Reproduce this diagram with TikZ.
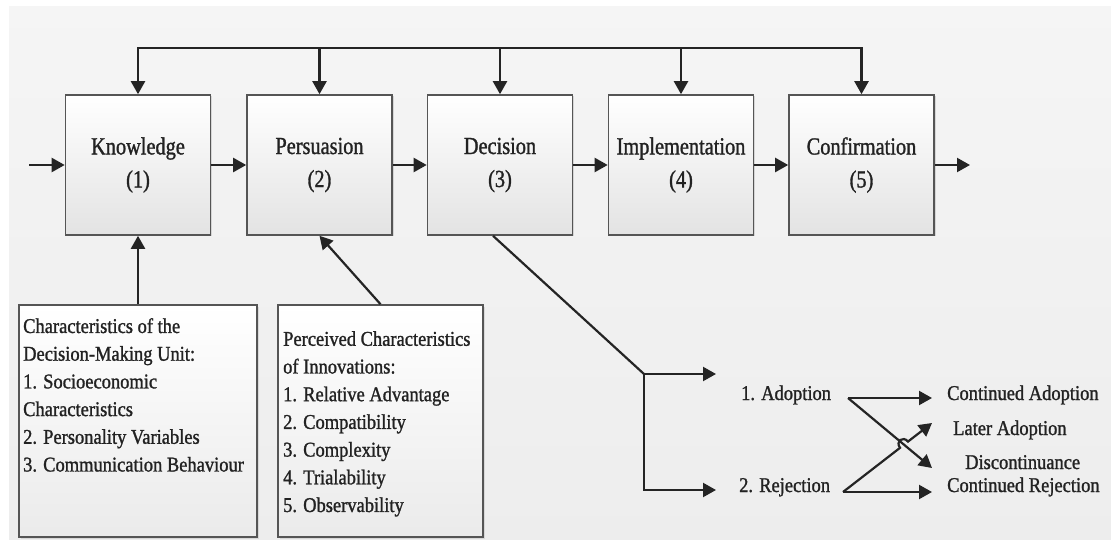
\documentclass[tikz,border=0pt]{standalone}
\usepackage{fontspec}
\setmainfont[FakeStretch=0.88,FakeBold=1.2]{Liberation Serif}
\newfontfamily\stagefont[FakeStretch=0.83,FakeBold=1.2]{Liberation Serif}
\usetikzlibrary{arrows.meta,shadows}
\definecolor{ink}{HTML}{242424}
\definecolor{frame}{HTML}{555555}
\definecolor{txt}{HTML}{222222}
\tikzset{
  stage/.style={draw=frame, line width=1.6pt, minimum width=145pt, minimum height=140pt,
    inner sep=0pt, top color=white, bottom color=black!11, align=center, text=txt,
    font=\stagefont\fontsize{24.5}{33}\selectfont,
    drop shadow={shadow xshift=1.5pt, shadow yshift=-1.5pt, opacity=0.25}},
  infobox/.style={draw=frame, line width=1.6pt, inner sep=0pt, top color=white, bottom color=black!8,
    drop shadow={shadow xshift=1.5pt, shadow yshift=-1.5pt, opacity=0.2}},
  infotext/.style={anchor=north west, inner sep=0pt, align=left, text=txt,
    font=\fontsize{21}{27.7}\selectfont},
  outtext/.style={anchor=base west, inner sep=0pt, text=txt, font=\fontsize{21}{25}\selectfont},
  conn/.style={draw=ink, line width=2.2pt},
  arr/.style={conn, -{Triangle[length=13pt,width=14pt]}},
}
\begin{document}
\begin{tikzpicture}[x=1pt,y=-1pt]
\useasboundingbox (0,0) rectangle (1111,540);
\fill[white] (0,0) rectangle (1111,540);
\shade[top color=black!4, bottom color=black!7] (9,7) rectangle (1111,540);

% main stages
\node[stage] (kn) at (138,165) {Knowledge\\(1)};
\node[stage] (pe) at (319.5,165) {Persuasion\\(2)};
\node[stage] (dc) at (500,165) {Decision\\(3)};
\node[stage] (im) at (681,165) {Implementation\\(4)};
\node[stage] (cf) at (861.5,165) {Confirmation\\(5)};

% input boxes
\node[infobox, minimum width=238pt, minimum height=232pt] (dmu) at (138,421) {};
\node[infobox, minimum width=205pt, minimum height=232pt] (pci) at (380.5,421) {};
\node[infotext] (dmut) at (23,318) {Characteristics of the\\Decision-Making Unit:\\1. Socioeconomic\\Characteristics\\2. Personality Variables\\3. Communication Behaviour};
\node[infotext] (pcit) at (283,331) {Perceived Characteristics\\of Innovations:\\1. Relative Advantage\\2. Compatibility\\3. Complexity\\4. Trialability\\5. Observability};

% coordinates
\coordinate (bus) at (0,48);
\coordinate (in) at (29,165);
\coordinate (out) at (970,165);
\coordinate (split) at (644,374);
\coordinate (ad) at (716,374);
\coordinate (rj) at (716,490);
\coordinate (as) at (848,398);
\coordinate (rs) at (843,492);
\coordinate (ca) at (932,398);
\coordinate (dis) at (932,468);
\coordinate (la) at (932,423);
\coordinate (cr) at (932,492);
\coordinate (h1) at (900.05,447.8);
\coordinate (h1c) at (895.1,441.5);
\coordinate (h2c) at (903.0,435.3);
\coordinate (h2) at (907.95,441.6);

% outcome labels
\node[outtext] (adl) at (741,400) {1. Adoption};
\node[outtext] (rjl) at (739,492) {2. Rejection};
\node[outtext] (cal) at (947,400) {Continued Adoption};
\node[outtext] (lal) at (953,435) {Later Adoption};
\node[outtext] (dil) at (965,469) {Discontinuance};
\node[outtext] (crl) at (947,492) {Continued Rejection};

% feedback bus
\draw[conn, line cap=rect] (kn.north |- bus) -- (cf.north |- bus);
\foreach \b in {kn,pe,dc,im,cf} \draw[arr] (\b.north |- bus) -- (\b.north);

% main flow
\draw[arr] (in) -- (kn.west);
\draw[arr] (kn.east) -- (pe.west);
\draw[arr] (pe.east) -- (dc.west);
\draw[arr] (dc.east) -- (im.west);
\draw[arr] (im.east) -- (cf.west);
\draw[arr] (cf.east) -- (out);

% influences
\draw[arr] (dmu.north) -- (kn.south);
\draw[arr] (pci.north) -- (pe.south);

% decision outcomes
\draw[conn] ([xshift=-7pt]dc.south) -- (split);
\draw[arr] (split) -- (ad);
\draw[arr] (split) |- (rj);
\draw[arr] (as) -- (ca);
\draw[arr] (as) -- (dis);
\draw[arr] (rs) -- (cr);
\draw[arr] (rs) -- (h1) .. controls (h1c) and (h2c) .. (h2) -- (la);
\end{tikzpicture}
\end{document}
